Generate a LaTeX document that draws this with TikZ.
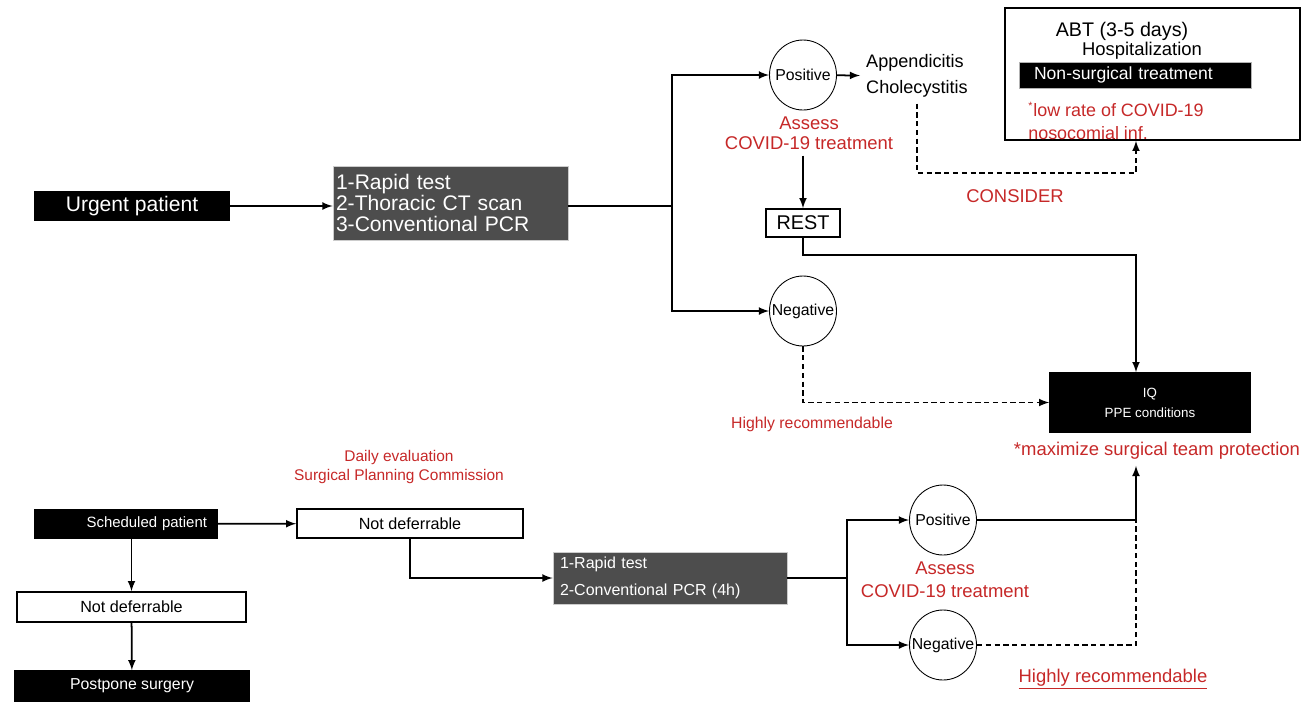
\documentclass[tikz,border=0pt]{standalone}
\usepackage{fontspec}
\setmainfont{Liberation Sans}
\usetikzlibrary{shapes.geometric}
\definecolor{darkbox}{HTML}{4D4D4D}
\definecolor{notered}{HTML}{C62828}
\newcommand{\fs}[1]{\fontsize{#1}{#1}\selectfont}
\tikzstyle{box}=[rectangle, inner sep=0pt, line width=0.9pt, draw=black, anchor=center]
\tikzstyle{blackbox}=[box, fill=black, text=white]
\tikzstyle{greybox}=[box, fill=darkbox, draw=white!80!black, line width=0.5pt, text=white, align=left]
\tikzstyle{whitebox}=[box, fill=white]
\tikzstyle{result}=[ellipse, draw=black, line width=0.5pt, inner xsep=-5pt, inner ysep=0pt, minimum width=1.34cm, minimum height=1.40cm, font=\fs{9}]
\tikzstyle{annot}=[align=center, text=notered]
\tikzstyle{link}=[line width=1pt, -latex]
\tikzstyle{hint}=[line width=1pt, dash pattern=on 3pt off 2pt, -latex]

\begin{document}
\begin{tikzpicture}[x=0.02cm, y=-0.02cm]
	\useasboundingbox (0,0) rectangle (1316,704);

	% urgent patient
	\node[blackbox, minimum width=3.9cm, minimum height=0.58cm, font=\fs{12}](urgent) at (132,206){Urgent patient};
	\node[greybox, text width=4.58cm, inner xsep=0.06cm, minimum height=1.48cm, font=\fontsize{12}{11.9}\selectfont](tests) at (450.5,203){1-Rapid test\\2-Thoracic CT scan\\3-Conventional PCR};
	\coordinate (split1) at (672,206);
	\draw[link] (urgent.east) -- (urgent.east -| tests.west);
	\draw[line width=1pt] (split1 -| tests.east) -- (split1);

	\node[result](pos1) at (803,75){Positive};
	\node[result](neg1) at (803,311){Negative};
	\draw[link] (split1) |- (pos1.west);
	\draw[link] (split1) |- (neg1.west);

	\node[anchor=west, align=left, font=\fontsize{10.3}{14.7}\selectfont](diag) at (860,76){Appendicitis\\Cholecystitis};
	\draw[link] (pos1) -- (diag);
	\node[annot, font=\fontsize{10.5}{11.3}\selectfont](assess1) at (809,133){Assess\\COVID-19 treatment};

	\node[whitebox, minimum width=1.48cm, minimum height=0.56cm, font=\fs{11.3}](rest) at (803,223){REST};
	\draw[link] (rest.north |- assess1.south) -- (rest.north);

	% non-surgical option
	\node[whitebox, minimum width=5.9cm, minimum height=2.64cm](nonsurg) at (1152.5,74){};
	\node[font=\fs{11.2}](abt) at (1122,31){ABT (3-5 days)};
	\node[font=\fs{10.5}](hosp) at (1142,51){Hospitalization};
	\node[blackbox, line width=0.5pt, draw=white!70!black, minimum width=4.64cm, minimum height=0.52cm, text width=4.04cm, inner xsep=0.3cm, align=left, font=\fs{10}](bar) at (1135,75){Non-surgical treatment};
	\node[annot, anchor=west, align=left, inner sep=0pt, font=\fontsize{10.2}{13}\selectfont](lowrate) at (1028,121){\textsuperscript{\fs{6}*}low rate of COVID-19\\nosocomial inf.};
	\coordinate (consturn) at (1136,173);
	\draw[hint] (diag.south) |- (consturn) -- (nonsurg.south -| consturn);
	\node[annot, font=\fs{10.5}](consider) at (1015,196){CONSIDER};

	% surgery
	\node[blackbox, minimum width=4cm, minimum height=1.18cm, align=center, font=\fontsize{7.6}{11.3}\selectfont](iq) at (1150,402.5){IQ\\PPE conditions};
	\node[annot, font=\fs{10.5}](protect) at (1157,451){*maximize surgical team protection};
	\coordinate (restturn) at (1136,255);
	\draw[link] (rest.south) |- (restturn) -- (iq.north -| restturn);
	\draw[hint] (neg1.south) |- (iq.west);
	\node[annot, font=\fs{9}](rec1) at (812,424){Highly recommendable};

	% scheduled patient
	\node[blackbox, minimum width=3.64cm, minimum height=0.56cm, text width=3.24cm, inner xsep=0.2cm, align=right, font=\fs{8.5}](sched) at (126,524){Scheduled patient};
	\node[whitebox, minimum width=4.52cm, minimum height=0.58cm, font=\fs{9.2}](notdef1) at (410,523.5){Not deferrable};
	\node[annot, font=\fontsize{8.8}{11.3}\selectfont](daily) at (399,467){Daily evaluation\\Surgical Planning Commission};
	\node[whitebox, minimum width=4.58cm, minimum height=0.6cm, font=\fs{9.2}](notdef2) at (131.5,607){Not deferrable};
	\node[blackbox, minimum width=4.68cm, minimum height=0.6cm, font=\fs{9}](postpone) at (132,686){Postpone surgery};
	\draw[link] (sched) -- (notdef1);
	\draw[link] (notdef2.north |- sched.south) -- (notdef2.north);
	\draw[link] (notdef2) -- (postpone);

	\node[greybox, text width=4.4cm, inner xsep=0.14cm, minimum height=1.04cm, font=\fontsize{9.1}{15.3}\selectfont](tests2) at (670,578){1-Rapid test\\2-Conventional PCR (4h)};
	\draw[link] (notdef1.south) |- (tests2.west);
	\coordinate (split2) at (847,578);
	\draw[line width=1pt] (tests2.east) -- (split2);

	\node[result](pos2) at (943,520){Positive};
	\node[result](neg2) at (943,645){Negative};
	\draw[link] (split2) |- (pos2.west);
	\draw[link] (split2) |- (neg2.west);
	\node[annot, font=\fontsize{10.5}{13}\selectfont](assess2) at (945,580){Assess\\COVID-19 treatment};

	\coordinate (junc2) at (1136,520);
	\draw[line width=1pt] (pos2.east) -- (junc2);
	\draw[link] (junc2) -- (protect.south -| junc2);
	\draw[line width=1pt, dash pattern=on 3pt off 2pt] (neg2.east) -| (junc2);
	\node[annot, font=\fs{10.5}](rec2) at (1113,679){\underline{Highly recommendable}};

\end{tikzpicture}
\end{document}
